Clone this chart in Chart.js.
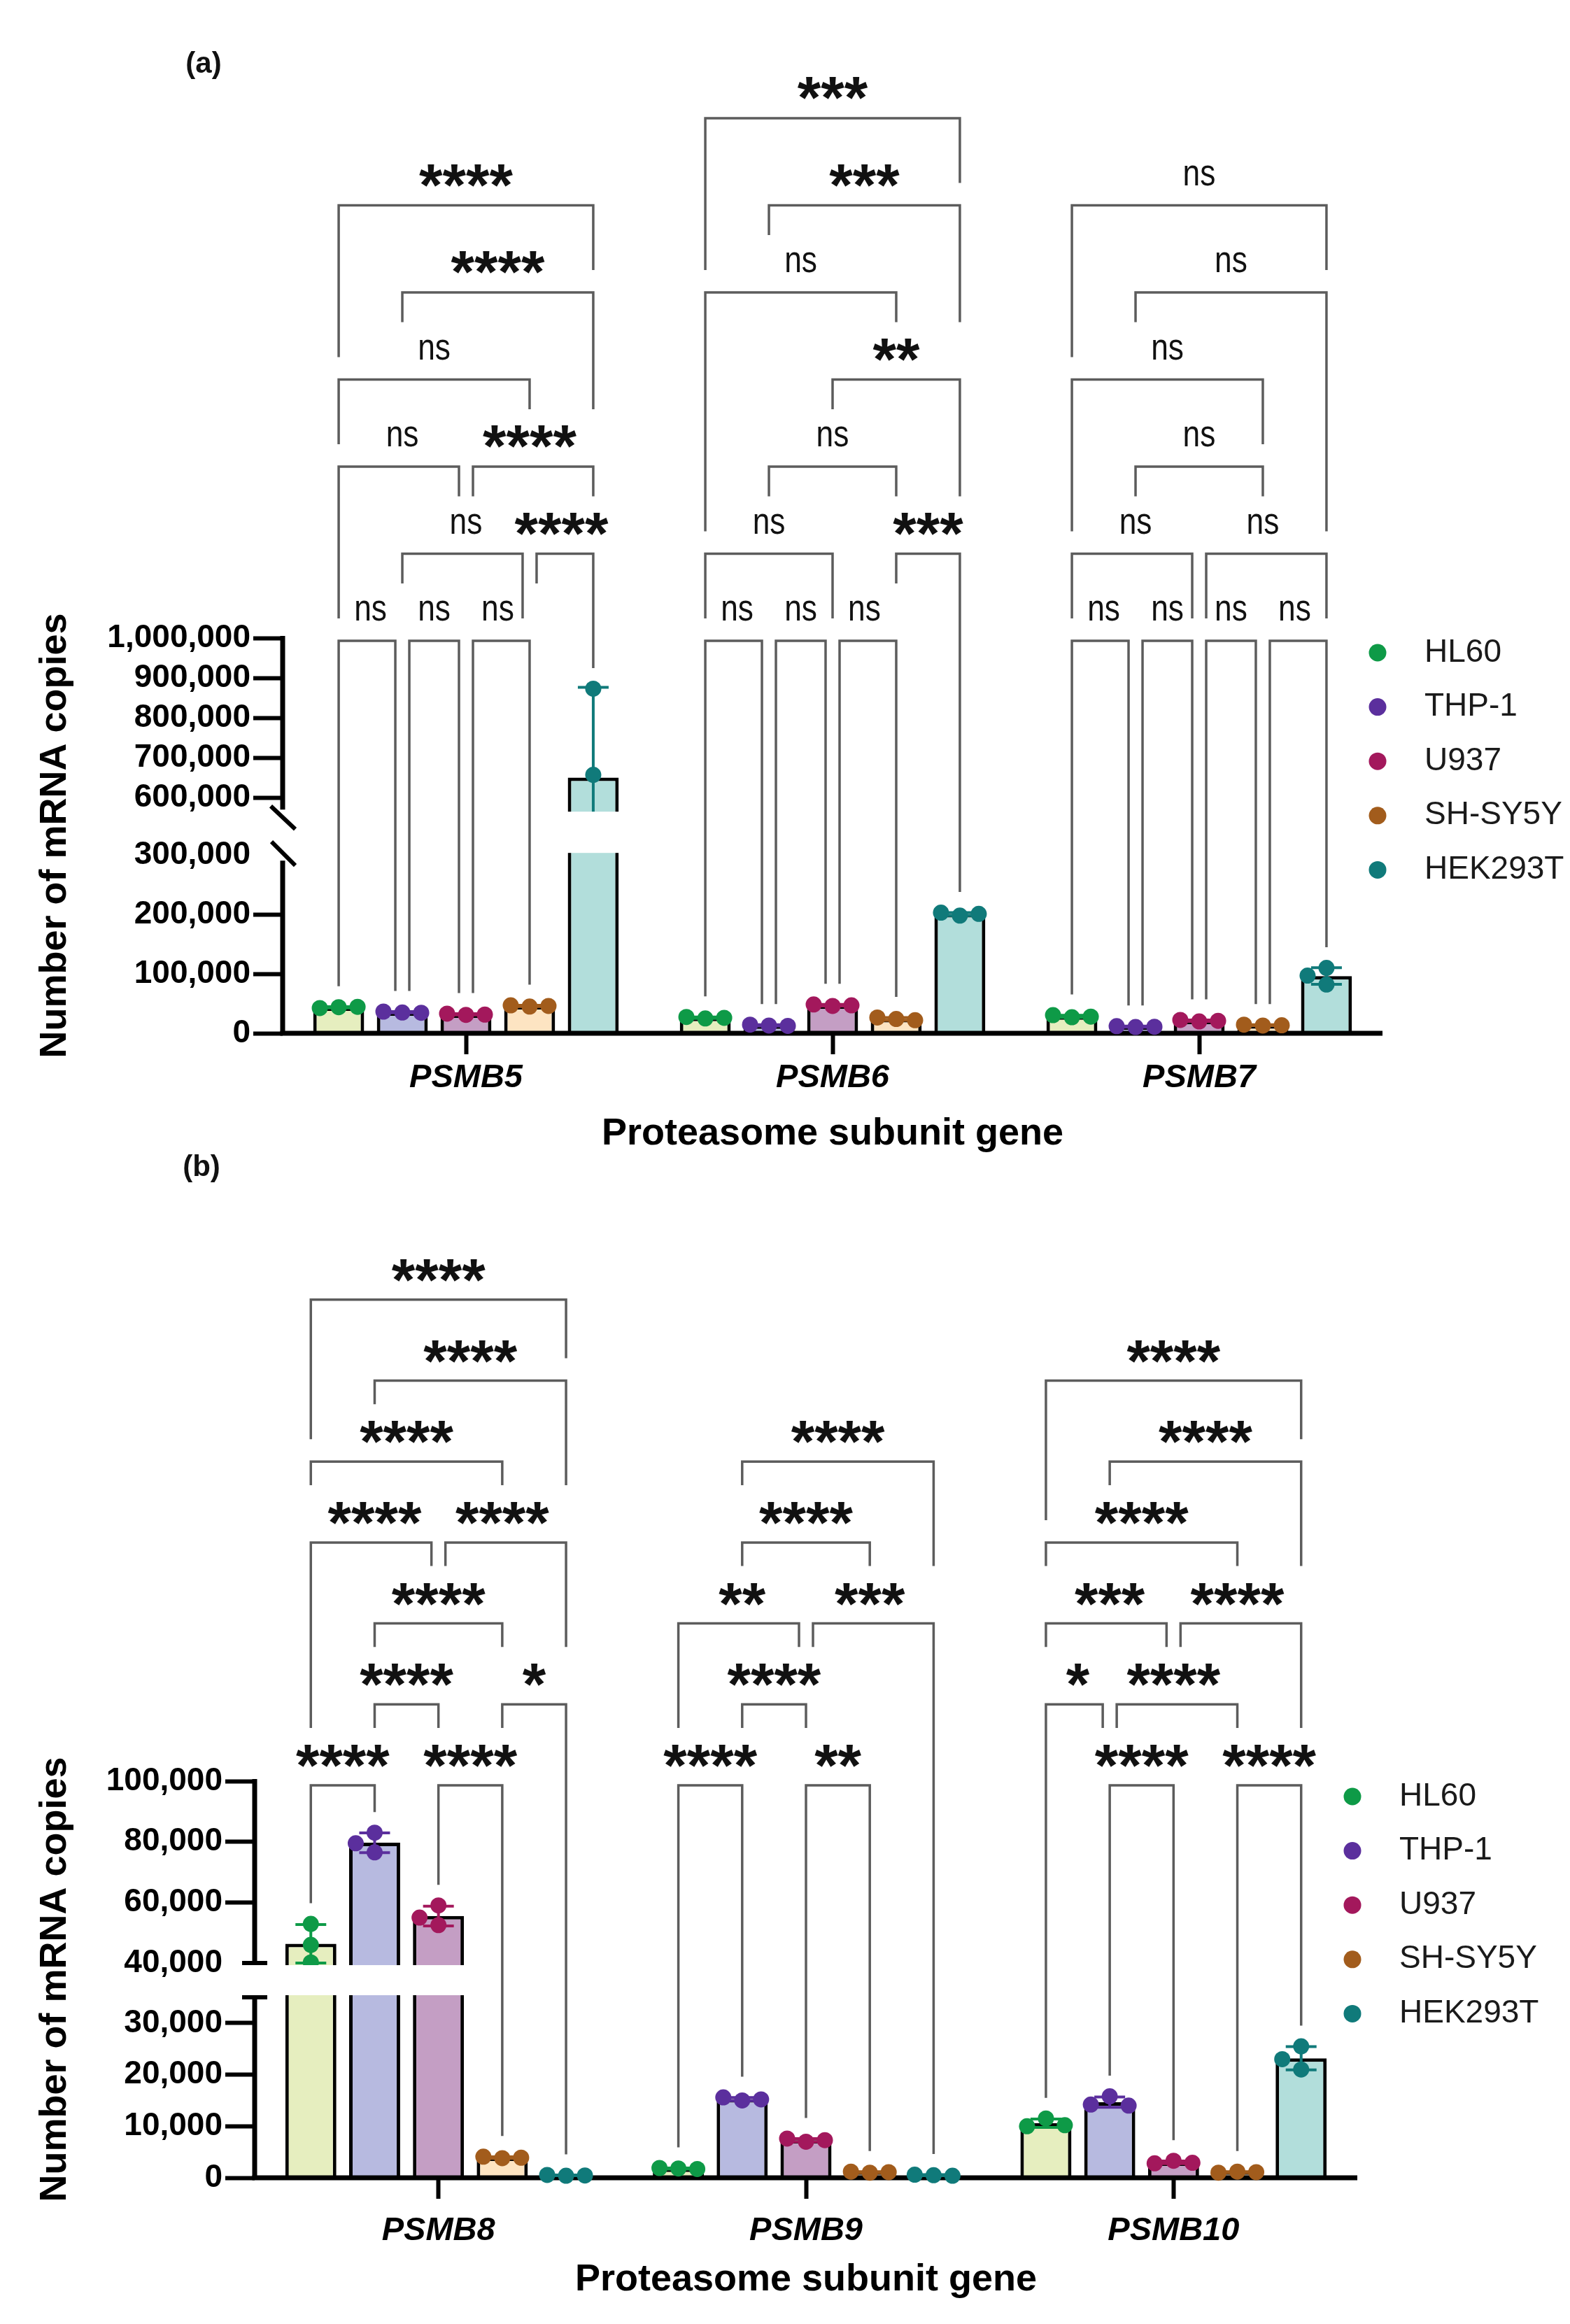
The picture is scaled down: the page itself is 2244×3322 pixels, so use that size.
<!DOCTYPE html>
<html>
<head>
<meta charset="utf-8">
<script src="https://cdn.jsdelivr.net/npm/chart.js@4.4.1/dist/chart.umd.min.js"></script>
<style>
html, body { margin: 0; padding: 0; background: #fff; }
body { width: 2244px; height: 3322px; position: relative; overflow: hidden; }
canvas { position: absolute; left: 0; }
#chartA { top: 0; }
#chartB { top: 1600px; }
</style>
</head>
<body>
<canvas id="chartA" width="2244" height="1700"></canvas>
<canvas id="chartB" width="2244" height="1722"></canvas>
<script>
const cellLines = ['HL60', 'THP-1', 'U937', 'SH-SY5Y', 'HEK293T'];
const genesA = ['PSMB5', 'PSMB6', 'PSMB7'];
const genesB = ['PSMB8', 'PSMB9', 'PSMB10'];

// three replicates per gene
const hl60A    = [[44000, 42500, 44500], [25000, 27500, 26000], [27000, 30500, 28000]];
const thp1A    = [[35000, 36500, 34500], [13000, 14500, 12500], [10500, 12000, 11000]];
const u937A    = [[31000, 33000, 31500], [46000, 48500, 47000], [20000, 22500, 21000]];
const shsy5yA  = [[45000, 47000, 46000], [24000, 26500, 22000], [13000, 14500, 13500]];
const hek293tA = [[873000, 657000, 420000], [198000, 203000, 201000], [110000, 97000, 82000]];

const hl60B    = [[52900, 46000, 40200], [1800, 1900, 1700], [11500, 10000, 10200]];
const thp1B    = [[83000, 79500, 76500], [15000, 15600, 15200], [15800, 14200, 14000]];
const u937B    = [[59000, 55000, 52500], [7000, 7600, 7300], [3300, 2800, 2900]];
const shsy5yB  = [[3800, 4100, 3900], [1000, 1200, 1100], [1200, 1000, 1100]];
const hek293tB = [[400, 550, 450], [500, 600, 400], [25500, 23000, 21000]];

const ticksA = [0, 100000, 200000, 300000, 600000, 700000, 800000, 900000, 1000000];
const ticksB = [0, 10000, 20000, 30000, 40000, 60000, 80000, 100000];
const axisBreakA = [300000, 570000];
const axisBreakB = [35000, 40000];

// [group i, group j, label, row] per gene
const sigA = [
  [[0,1,'ns',1],[1,2,'ns',1],[2,3,'ns',1],[1,3,'ns',2],[3,4,'****',2],[0,2,'ns',3],[2,4,'****',3],[0,3,'ns',4],[1,4,'****',5],[0,4,'****',6]],
  [[0,1,'ns',1],[1,2,'ns',1],[2,3,'ns',1],[0,2,'ns',2],[3,4,'***',2],[1,3,'ns',3],[2,4,'**',4],[0,3,'ns',5],[1,4,'***',6],[0,4,'***',7]],
  [[0,1,'ns',1],[1,2,'ns',1],[2,3,'ns',1],[3,4,'ns',1],[0,2,'ns',2],[2,4,'ns',2],[1,3,'ns',3],[0,3,'ns',4],[1,4,'ns',5],[0,4,'ns',6]]
];
const sigB = [
  [[0,1,'****',1],[2,3,'****',1],[1,2,'****',2],[3,4,'*',2],[1,3,'****',3],[0,2,'****',4],[2,4,'****',4],[0,3,'****',5],[1,4,'****',6],[0,4,'****',7]],
  [[0,1,'****',1],[2,3,'**',1],[1,2,'****',2],[0,2,'**',3],[2,4,'***',3],[1,3,'****',4],[1,4,'****',5]],
  [[1,2,'****',1],[3,4,'****',1],[0,1,'*',2],[1,3,'****',2],[0,2,'***',3],[2,4,'****',3],[0,3,'****',4],[1,4,'****',5],[0,4,'****',6]]
];

const barFills = ['#E6EEBF', '#B7BAE0', '#C49EC4', '#FDE4C2', '#B2DEDB'];
const dotColors = ['#0E9A47', '#5B2F9D', '#A3185C', '#A25C1C', '#107A7A'];

const FONT = '"Liberation Sans", Arial, sans-serif';
Chart.defaults.font.family = FONT;
Chart.defaults.color = '#000';

const R = 11.5;      // dot radius
const SPREAD = 27;   // horizontal step for overlapping dots

const mean = a => a.reduce((s, v) => s + v, 0) / a.length;
const sdev = a => {
  const m = mean(a);
  return Math.sqrt(a.reduce((s, v) => s + (v - m) * (v - m), 0) / (a.length - 1));
};

// linear scale with a gap in the middle
class BrokenScale extends Chart.LinearScale {
  static id = 'broken';
  static defaults = Chart.LinearScale.defaults;
  toDecimal(v) {
    const b = this.options.brk;
    const hiFrac = 1 - b.lowFrac - b.gapFrac;
    if (v <= b.lowMax) return (v - this.min) / (b.lowMax - this.min) * b.lowFrac;
    if (v >= b.highMin) return b.lowFrac + b.gapFrac + (v - b.highMin) / (this.max - b.highMin) * hiFrac;
    return b.lowFrac + (v - b.lowMax) / (b.highMin - b.lowMax) * b.gapFrac;
  }
  getPixelForValue(v) {
    return (v === null || v === undefined) ? NaN : this.getPixelForDecimal(this.toDecimal(v));
  }
  getValueForPixel(p) {
    const d = this.getDecimalForPixel(p);
    const b = this.options.brk;
    const hiStart = b.lowFrac + b.gapFrac;
    if (d <= b.lowFrac) return this.min + d / b.lowFrac * (b.lowMax - this.min);
    if (d >= hiStart) return b.highMin + (d - hiStart) / (1 - hiStart) * (this.max - b.highMin);
    return b.lowMax + (d - b.lowFrac) / b.gapFrac * (b.highMin - b.lowMax);
  }
}
Chart.register(BrokenScale);

function seg(ctx, x1, y1, x2, y2) {
  ctx.beginPath();
  ctx.moveTo(x1, y1);
  ctx.lineTo(x2, y2);
  ctx.stroke();
}

function jitter(py) {
  const placed = [];
  return py.map(y => {
    for (const off of [0, -SPREAD, SPREAD, -2 * SPREAD, 2 * SPREAD]) {
      if (placed.every(p => Math.hypot(p.x - off, p.y - y) >= 2 * R - 1)) {
        placed.push({ x: off, y });
        return off;
      }
    }
    return 0;
  });
}

function sigText(ctx, text, cx, cy) {
  ctx.save();
  const ns = text === 'ns';
  ctx.font = ns ? `54px ${FONT}` : `bold 86px ${FONT}`;
  const m = ctx.measureText(text);
  ctx.translate(cx, cy + (m.actualBoundingBoxAscent - m.actualBoundingBoxDescent) / 2);
  ctx.scale(ns ? 0.82 : 1, 1);
  ctx.textAlign = 'center';
  ctx.textBaseline = 'alphabetic';
  ctx.fillStyle = '#111';
  ctx.fillText(text, 0, 0);
  ctx.restore();
}

function makePanelPlugin(reps, sig, L) {
  return {
    id: 'panel',
    afterDatasetsDraw(chart) {
      const ctx = chart.ctx, ca = chart.chartArea, ys = chart.scales.y;
      const brk = ys.options.brk;
      const pHigh = ys.getPixelForValue(brk.highMin);
      const pLow = ys.getPixelForValue(brk.lowMax);
      const barX = (k, g) => chart.getDatasetMeta(k).data[g].x;
      ctx.save();

      // axis lines
      ctx.strokeStyle = '#000';
      ctx.lineWidth = 7;
      seg(ctx, ca.left - 3.5, ca.bottom, ca.right, ca.bottom);
      seg(ctx, ca.left, ca.top - 3, ca.left, pHigh);
      seg(ctx, ca.left, L.breakStyle === 'slash' ? pLow + 8 : pLow, ca.left, ca.bottom);

      // error bars (mean +/- SD) and replicate dots
      const tops = reps.map(() => []);
      reps.forEach((perGene, k) => perGene.forEach((vals, g) => {
        const cx = barX(k, g), m = mean(vals), s = sdev(vals);
        const yHi = ys.getPixelForValue(m + s);
        const yLo = ys.getPixelForValue(Math.max(0, m - s));
        ctx.strokeStyle = dotColors[k];
        ctx.lineWidth = 4;
        seg(ctx, cx, yHi, cx, yLo);
        seg(ctx, cx - 22, yHi, cx + 22, yHi);
        seg(ctx, cx - 22, yLo, cx + 22, yLo);
        const py = vals.map(v => ys.getPixelForValue(v));
        const offs = jitter(py);
        ctx.fillStyle = dotColors[k];
        py.forEach((y, i) => {
          ctx.beginPath();
          ctx.arc(cx + offs[i], y, R, 0, 2 * Math.PI);
          ctx.fill();
        });
        tops[k][g] = Math.min(yHi, ...py.map(y => y - R));
      }));

      // blank band of the axis break
      ctx.fillStyle = '#fff';
      ctx.fillRect(ca.left + 4, pHigh + 3, ca.right - ca.left, pLow - pHigh - 6);

      // break marks
      ctx.strokeStyle = '#000';
      ctx.lineWidth = 6;
      if (L.breakStyle === 'slash') {
        seg(ctx, ca.left - 17, pHigh - 5, ca.left + 18, pHigh + 28);
        seg(ctx, ca.left - 16, pLow - 19, ca.left + 18, pLow + 15);
      } else {
        seg(ctx, ca.left - 18, pHigh, ca.left + 18, pHigh);
        seg(ctx, ca.left - 18, pLow, ca.left + 18, pLow);
      }

      // comparison brackets
      const rowY = lv => ca.top + L.base - (lv - 1) * L.step;
      sig.forEach((list, g) => {
        const ends = list.map(([i, j, txt, lv]) => {
          let xl = barX(i, g), xr = barX(j, g);
          if (list.some(o => o[3] === lv && o[1] === i)) xl += 10;
          if (list.some(o => o[3] === lv && o[0] === j)) xr -= 10;
          return { xl, xr, i, j, txt, lv };
        });
        const legEnd = (e, left) => {
          const x = left ? e.xl : e.xr;
          let best = null;
          ends.forEach(o => {
            if (o.lv < e.lv && x >= o.xl - 12 && x <= o.xr + 12 && (!best || o.lv > best.lv)) best = o;
          });
          if (!best) return tops[left ? e.i : e.j][g] - 18;
          const sameEnd = left ? best.i === e.i : best.j === e.j;
          const outer = e.i === 0 && e.j === 4;
          const short = sameEnd && (best.txt === 'ns' || outer);
          return rowY(best.lv) - (short ? 32 : L.legGap);
        };
        ctx.strokeStyle = '#5c5c5c';
        ctx.lineWidth = 3.5;
        ends.forEach(e => {
          const y = rowY(e.lv);
          ctx.beginPath();
          ctx.moveTo(e.xl, legEnd(e, true));
          ctx.lineTo(e.xl, y);
          ctx.lineTo(e.xr, y);
          ctx.lineTo(e.xr, legEnd(e, false));
          ctx.stroke();
          sigText(ctx, e.txt, (barX(e.i, g) + barX(e.j, g)) / 2, y - L.labelOff);
        });
      });

      // legend
      ctx.font = `46px ${FONT}`;
      ctx.textAlign = 'left';
      ctx.textBaseline = 'middle';
      cellLines.forEach((name, k) => {
        const cy = ca.top + L.legendTop + k * 77.6;
        ctx.fillStyle = dotColors[k];
        ctx.beginPath();
        ctx.arc(ca.right - 7, cy, 12.5, 0, 2 * Math.PI);
        ctx.fill();
        ctx.fillStyle = '#1a1a1a';
        ctx.fillText(name, ca.right + 60, cy);
      });

      // panel letter
      ctx.fillStyle = '#111';
      ctx.font = `bold 42px ${FONT}`;
      ctx.textAlign = 'center';
      ctx.fillText(L.letter, L.letterX, L.letterY);
      ctx.restore();
    }
  };
}

function buildPanel(canvasId, genes, reps, ticks, axisBreak, sig, L) {
  const datasets = cellLines.map((name, k) => ({
    label: name,
    data: reps[k].map(mean),
    backgroundColor: barFills[k],
    borderColor: '#000',
    borderWidth: 5,
    borderSkipped: 'bottom',
    categoryPercentage: 0.868,
    barPercentage: 0.8
  }));
  return new Chart(document.getElementById(canvasId), {
    type: 'bar',
    data: { labels: genes, datasets },
    options: {
      responsive: false,
      animation: false,
      devicePixelRatio: 1,
      layout: { padding: { top: L.top, right: L.right, left: 0, bottom: 0 } },
      plugins: { legend: { display: false }, tooltip: { enabled: false } },
      scales: {
        x: {
          offset: true,
          border: { display: false },
          grid: { drawOnChartArea: false, offset: false, tickLength: 30, tickWidth: 6, tickColor: '#000' },
          ticks: { color: '#000', padding: L.xTickPad, font: { size: 47, weight: 'bold', style: 'italic' } },
          title: {
            display: true, text: 'Proteasome subunit gene', color: '#000',
            font: { size: 54, weight: 'bold' }, padding: { top: 0, bottom: L.xTitlePad }
          },
          afterFit: s => { s.height = L.xAxisH; }
        },
        y: {
          type: 'broken',
          min: 0,
          max: ticks[ticks.length - 1],
          brk: { lowMax: axisBreak[0], highMin: axisBreak[1], lowFrac: L.lowFrac, gapFrac: L.gapFrac },
          afterBuildTicks: s => { s.ticks = ticks.map(v => ({ value: v })); },
          afterFit: s => { s.width = L.left; },
          border: { display: false },
          grid: {
            drawOnChartArea: false, tickLength: 42, tickWidth: 6,
            tickColor: c => (c.tick && c.tick.value === axisBreak[L.hiddenTick]) ? 'rgba(0,0,0,0)' : '#000'
          },
          ticks: {
            color: '#000', padding: 4, font: { size: 46, weight: 'bold' },
            callback: v => v.toLocaleString('en-US')
          },
          title: {
            display: true, text: 'Number of mRNA copies', color: '#000',
            font: { size: 54, weight: 'bold' }, padding: { top: 46.6, bottom: 0 }
          }
        }
      }
    },
    plugins: [makePanelPlugin(reps, sig, L)]
  });
}

buildPanel('chartA', genesA, [hl60A, thp1A, u937A, shsy5yA, hek293tA], ticksA, axisBreakA, sigA, {
  top: 912, left: 404, right: 268, xAxisH: 223, xTickPad: 6, xTitlePad: 46.6,
  lowFrac: 0.451, gapFrac: 0.115, breakStyle: 'slash', hiddenTick: 0,
  base: 4, step: 124.5, labelOff: 43, legGap: 82, legendTop: 21,
  letter: '(a)', letterX: 291, letterY: 92
});

buildPanel('chartB', genesB, [hl60B, thp1B, u937B, shsy5yB, hek293tB], ticksB, axisBreakB, sigB, {
  top: 946, left: 364, right: 304, xAxisH: 209, xTickPad: 18, xTitlePad: 30,
  lowFrac: 0.455, gapFrac: 0.0864, breakStyle: 'cap', hiddenTick: 1,
  base: 6, step: 115.7, labelOff: 42, legGap: 82, legendTop: 22,
  letter: '(b)', letterX: 288, letterY: 69
});
</script>
</body>
</html>
